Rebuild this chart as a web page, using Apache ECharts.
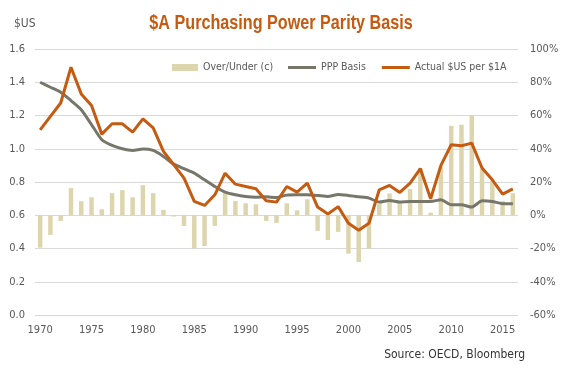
<!DOCTYPE html>
<html>
<head>
<meta charset="utf-8">
<script src="https://cdn.jsdelivr.net/npm/echarts@6/dist/echarts.min.js"></script>
<style>
html,body{margin:0;padding:0;background:#fff;}
#chart{width:567px;height:378px;}
</style>
</head>
<body>
<div id="chart"></div>
<script>
var years = [];
for (var y = 1970; y <= 2016; y++) years.push(String(y));

var overUnder = [-19.5,-11.8,-3.4,16.3,8.4,10.8,3.6,13.3,15.1,10.8,18.1,13.3,3.2,-0.8,-6.4,-19.9,-18.5,-6.4,13.3,8.6,7.2,6.6,-3.4,-4.6,7.2,3.0,9.6,-9.4,-14.9,-10.0,-23.1,-28.1,-19.9,7.0,13.1,8.6,15.7,28.5,1.6,29.5,53.8,54.4,60.2,28.0,20.7,8.6,13.3];

var pppBasis = [1.40,1.37,1.34,1.29,1.235,1.145,1.054,1.02,1.0,0.99,0.998,0.99,0.954,0.908,0.88,0.853,0.813,0.773,0.739,0.723,0.713,0.709,0.711,0.707,0.721,0.723,0.723,0.719,0.713,0.725,0.719,0.711,0.703,0.679,0.689,0.679,0.683,0.683,0.683,0.693,0.663,0.663,0.649,0.687,0.683,0.669,0.669];

var actual = [1.114,1.195,1.275,1.49,1.33,1.26,1.088,1.15,1.15,1.10,1.18,1.125,0.984,0.904,0.823,0.683,0.659,0.723,0.853,0.787,0.773,0.759,0.687,0.679,0.773,0.739,0.793,0.649,0.608,0.652,0.552,0.51,0.552,0.753,0.779,0.737,0.793,0.88,0.699,0.9,1.024,1.018,1.034,0.884,0.813,0.727,0.759];

var leftTicks = {min: 0, max: 1.6, interval: 0.2};
var rightTicks = {min: -60, max: 100, interval: 20};

var FONT = "'Liberation Sans Narrow','DejaVu Sans Condensed','Liberation Sans',sans-serif";
var TXT = '#595959';

var chart = echarts.init(document.getElementById('chart'), null, {renderer: 'canvas'});
chart.setOption({
  animation: false,
  backgroundColor: '#ffffff',
  textStyle: {fontFamily: FONT},
  graphic: [
    {type: 'text', x: 281, y: 13, scaleX: 0.77,
      style: {text: '$A Purchasing Power Parity Basis', x: 0, y: 0, textAlign: 'center',
        font: "bold 21px 'Liberation Sans',sans-serif", fill: '#C55A11'}},
    {type: 'text', left: 14, top: 18, style: {text: '$US', font: "12px " + FONT, fill: TXT}},
    {type: 'text', right: 42, top: 349, style: {text: 'Source: OECD, Bloomberg', font: "12px " + FONT, fill: '#333333'}}
  ],
  legend: [
    {
      left: 167,
      top: 57,
      itemWidth: 26,
      itemHeight: 7,
      textStyle: {fontFamily: FONT, fontSize: 10.5, color: TXT},
      data: [{name: 'Over/Under (c)', icon: 'rect'}]
    },
    {
      left: 283,
      top: 57,
      itemWidth: 28,
      itemHeight: 3,
      itemGap: 16,
      icon: 'rect',
      textStyle: {fontFamily: FONT, fontSize: 10.5, color: TXT},
      data: ['PPP Basis', 'Actual $US per $1A']
    }
  ],
  grid: {left: 35, right: 49, top: 49, bottom: 63, containLabel: false},
  xAxis: {
    type: 'category',
    data: years,
    boundaryGap: true,
    axisLine: {show: false},
    axisTick: {show: false},
    axisLabel: {interval: 4, color: TXT, fontFamily: FONT, fontSize: 11, margin: 10}
  },
  yAxis: [
    {
      type: 'value',
      min: leftTicks.min, max: leftTicks.max, interval: leftTicks.interval,
      axisLine: {show: false},
      axisTick: {show: false},
      splitLine: {lineStyle: {color: '#D9D9D9', width: 1}},
      axisLabel: {color: TXT, fontFamily: FONT, fontSize: 11, margin: 10,
        formatter: function (v) { return v.toFixed(1); }}
    },
    {
      type: 'value',
      min: rightTicks.min, max: rightTicks.max, interval: rightTicks.interval,
      axisLine: {show: false},
      axisTick: {show: false},
      splitLine: {show: false},
      axisLabel: {color: TXT, fontFamily: FONT, fontSize: 11, margin: 12,
        formatter: '{value}%'}
    }
  ],
  series: [
    {
      name: 'Over/Under (c)',
      type: 'bar',
      yAxisIndex: 1,
      data: overUnder,
      barWidth: 4.5,
      itemStyle: {color: '#DDD5AE'}
    },
    {
      name: 'PPP Basis',
      type: 'line',
      yAxisIndex: 0,
      data: pppBasis,
      symbol: 'none',
      smooth: 0.2,
      lineStyle: {color: '#76776A', width: 3},
      itemStyle: {color: '#76776A'}
    },
    {
      name: 'Actual $US per $1A',
      type: 'line',
      yAxisIndex: 0,
      data: actual,
      symbol: 'none',
      lineStyle: {color: '#C55A11', width: 3},
      itemStyle: {color: '#C55A11'}
    }
  ]
});
</script>
</body>
</html>
